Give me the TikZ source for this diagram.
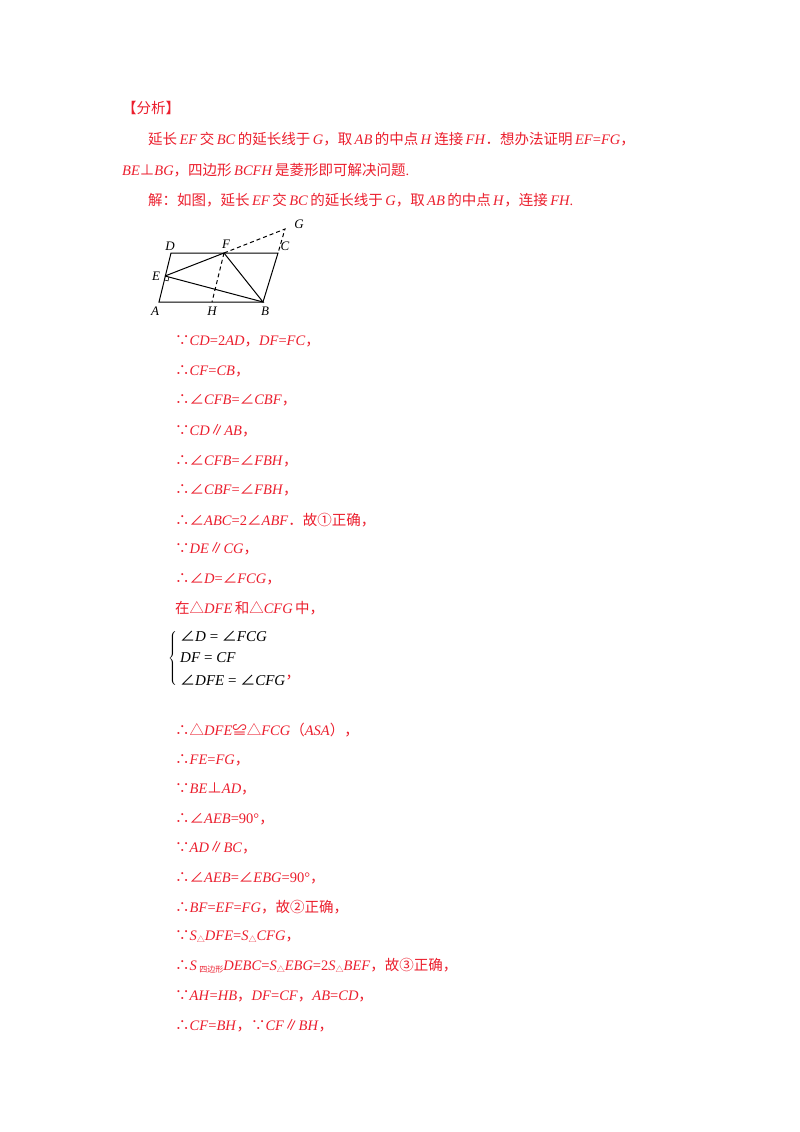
\documentclass[tikz,border=0pt]{standalone}
\usepackage{fontspec}
\usetikzlibrary{calc}
\setmainfont{Liberation Serif}
\newfontfamily\cjk{Noto Sans CJK SC}
\newcommand{\zh}[1]{{\cjk #1}}
\newcommand{\mi}[1]{\textit{#1}}
\definecolor{txtred}{RGB}{235,30,45}
\begin{document}
\begin{tikzpicture}[x=1pt,y=-1pt,
  ln/.style={anchor=west,inner sep=0pt,text=txtred,font=\fontsize{14.5}{17}\selectfont},
  lbl/.style={inner sep=0pt,font=\fontsize{13}{15}\selectfont\itshape},
  edge/.style={line width=1pt},
  dashline/.style={line width=1pt,dash pattern=on 4pt off 3pt}]
\useasboundingbox (0,0) rectangle (800,1132);
\node[ln] (t0) at (122,108) {\zh{【分析】}};
\node[ln] (t1) at (148,139) {\zh{延长}\,\mi{EF}\,\zh{交}\,\mi{BC}\,\zh{的延长线于}\,\mi{G}\zh{，取}\,\mi{AB}\,\zh{的中点}\,\mi{H}\,\zh{连接}\,\mi{FH}\zh{．想办法证明}\,\mi{EF}=\mi{FG}\zh{，}};
\node[ln] (t2) at (122,170) {\mi{BE}\zh{⊥}\mi{BG}\zh{，四边形}\,\mi{BCFH}\,\zh{是菱形即可解决问题}.};
\node[ln] (t3) at (148,200) {\zh{解：如图，延长}\,\mi{EF}\,\zh{交}\,\mi{BC}\,\zh{的延长线于}\,\mi{G}\zh{，取}\,\mi{AB}\,\zh{的中点}\,\mi{H}\zh{，连接}\,\mi{FH}.};
% figure
\coordinate (A) at (159,302); \coordinate (B) at (263,302);
\coordinate (C) at (278,253); \coordinate (D) at (171,253);
\coordinate (E) at (165,276); \coordinate (F) at (224,253);
\coordinate (G) at (285,229); \coordinate (H) at (212,302);
\draw[edge] (A)--(B)--(C)--(D)--cycle;
\draw[edge] (E)--(F)--(B)--(E);
\draw[dashline] (F)--(G)--(C);
\draw[dashline] (F)--(H);
\draw[line width=0.6pt] ($(E)!4pt!(A)$) -- ++(4,1) -- ($(E)!4pt!(B)$);
\node[lbl] (lD) at (170,246) {D};
\node[lbl] (lF) at (226,244) {F};
\node[lbl] (lC) at (285,246) {C};
\node[lbl] (lG) at (299,224) {G};
\node[lbl] (lE) at (156,276) {E};
\node[lbl] (lA) at (155,311) {A};
\node[lbl] (lH) at (212,311) {H};
\node[lbl] (lB) at (265,311) {B};
% proof lines
\node[ln] (p1) at (175,341) {\zh{∵}\mi{CD}=2\mi{AD}\zh{，}\mi{DF}=\mi{FC}\zh{，}};
\node[ln] (p2) at (175,371) {\zh{∴}\mi{CF}=\mi{CB}\zh{，}};
\node[ln] (p3) at (175,400) {\zh{∴∠}\mi{CFB}=\zh{∠}\mi{CBF}\zh{，}};
\node[ln] (p4) at (175,431) {\zh{∵}\mi{CD}\zh{∥}\mi{AB}\zh{，}};
\node[ln] (p5) at (175,461) {\zh{∴∠}\mi{CFB}=\zh{∠}\mi{FBH}\zh{，}};
\node[ln] (p6) at (175,490) {\zh{∴∠}\mi{CBF}=\zh{∠}\mi{FBH}\zh{，}};
\node[ln] (p7) at (175,520) {\zh{∴∠}\mi{ABC}=2\zh{∠}\mi{ABF}\zh{．故①正确，}};
\node[ln] (p8) at (175,549) {\zh{∵}\mi{DE}\zh{∥}\mi{CG}\zh{，}};
\node[ln] (p9) at (175,579) {\zh{∴∠}\mi{D}=\zh{∠}\mi{FCG}\zh{，}};
\node[ln] (p10) at (175,608) {\zh{在△}\mi{DFE}\,\zh{和△}\mi{CFG}\,\zh{中，}};
\node[anchor=west,inner sep=0pt,font=\fontsize{13}{15}\selectfont] (brace) at (168,658)
  {$\left\{\rule{0pt}{30pt}\right.$};
\node[anchor=west,inner sep=0pt,font=\fontsize{15}{17}\selectfont] (s1) at (180,636) {\zh{∠}\mi{D} = \zh{∠}\mi{FCG}};
\node[anchor=west,inner sep=0pt,font=\fontsize{15}{17}\selectfont] (s2) at (180,658) {\mi{DF} = \mi{CF}};
\node[anchor=west,inner sep=0pt,font=\fontsize{15}{17}\selectfont] (s3) at (180,680) {\zh{∠}\mi{DFE} = \zh{∠}\mi{CFG}};
\node[ln,anchor=west] (comma) at (s3.east) {\raisebox{6pt}{\zh{，}}};
\node[ln] (p11) at (175,730) {\zh{∴△}\mi{DFE}\zh{≌△}\mi{FCG}\zh{（}\mi{ASA}\zh{），}};
\node[ln] (p12) at (175,760) {\zh{∴}\mi{FE}=\mi{FG}\zh{，}};
\node[ln] (p13) at (175,789) {\zh{∵}\mi{BE}\zh{⊥}\mi{AD}\zh{，}};
\node[ln] (p14) at (175,819) {\zh{∴∠}\mi{AEB}=90°\zh{，}};
\node[ln] (p15) at (175,848) {\zh{∵}\mi{AD}\zh{∥}\mi{BC}\zh{，}};
\node[ln] (p16) at (175,878) {\zh{∴∠}\mi{AEB}=\zh{∠}\mi{EBG}=90°\zh{，}};
\node[ln] (p17) at (175,907) {\zh{∴}\mi{BF}=\mi{EF}=\mi{FG}\zh{，故②正确，}};
\node[ln] (p18) at (175,937) {\zh{∵}\mi{S}\raisebox{-2pt}{\fontsize{8}{9}\selectfont\zh{△}}\mi{DFE}=\mi{S}\raisebox{-2pt}{\fontsize{8}{9}\selectfont\zh{△}}\mi{CFG}\zh{，}};
\node[ln] (p19) at (175,966) {\zh{∴}\mi{S}\,\raisebox{-2pt}{\fontsize{8}{9}\selectfont\zh{四边形}}\mi{DEBC}=\mi{S}\raisebox{-2pt}{\fontsize{8}{9}\selectfont\zh{△}}\mi{EBG}=2\mi{S}\raisebox{-2pt}{\fontsize{8}{9}\selectfont\zh{△}}\mi{BEF}\zh{，故③正确，}};
\node[ln] (p20) at (175,996) {\zh{∵}\mi{AH}=\mi{HB}\zh{，}\mi{DF}=\mi{CF}\zh{，}\mi{AB}=\mi{CD}\zh{，}};
\node[ln] (p21) at (175,1026) {\zh{∴}\mi{CF}=\mi{BH}\zh{，∵}\mi{CF}\zh{∥}\mi{BH}\zh{，}};
\end{tikzpicture}
\end{document}
